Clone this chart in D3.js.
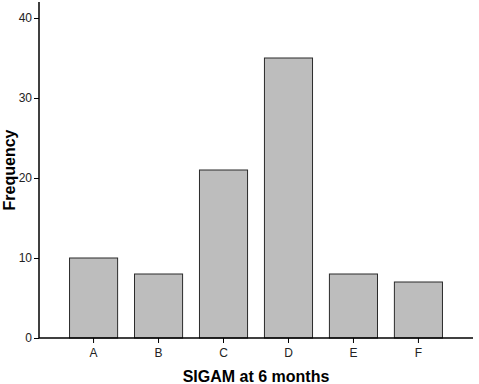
<!DOCTYPE html>
<html>
<head>
<meta charset="utf-8">
<script src="https://cdn.jsdelivr.net/npm/d3@7"></script>
<style>
  body { margin: 0; background: #fff; }
  svg { display: block; }
</style>
</head>
<body>
<script>
const categories = ["A", "B", "C", "D", "E", "F"];
const frequencies = [10, 8, 21, 35, 8, 7];
const yTicks = [0, 10, 20, 30, 40];

const width = 479, height = 384;
const plotLeft = 39, plotRight = 473, plotBottom = 338, plotTop = 18;

const svg = d3.select("body").append("svg")
  .attr("width", width)
  .attr("height", height)
  .style("font-family", "Arial, 'Liberation Sans', sans-serif");

const x = d3.scaleBand()
  .domain(categories)
  .range([plotLeft, plotRight])
  .paddingInner(0.26)
  .paddingOuter(0.47);

const y = d3.scaleLinear()
  .domain([0, 40])
  .range([plotBottom, plotTop]);

// bars
svg.selectAll("rect.bar")
  .data(categories)
  .enter()
  .append("rect")
    .attr("class", "bar")
    .attr("x", d => x(d))
    .attr("y", (d, i) => y(frequencies[i]))
    .attr("width", x.bandwidth())
    .attr("height", (d, i) => plotBottom - y(frequencies[i]))
    .attr("fill", "#bdbdbd")
    .attr("stroke", "#2b2b2b")
    .attr("stroke-width", 1);

// y axis
const yAxis = svg.append("g")
  .attr("transform", "translate(" + plotLeft + ",0)")
  .call(d3.axisLeft(y).tickValues(yTicks).tickSize(5).tickPadding(2).tickSizeOuter(0));
yAxis.select(".domain").remove();
yAxis.append("line")
  .attr("x1", 0).attr("x2", 0)
  .attr("y1", 2).attr("y2", plotBottom)
  .attr("stroke", "#000").attr("stroke-width", 1.5);
yAxis.selectAll("text").style("font-size", "12px").attr("fill", "#222");

// x axis
const xAxis = svg.append("g")
  .attr("transform", "translate(0," + plotBottom + ")")
  .call(d3.axisBottom(x).tickSize(5).tickPadding(5).tickSizeOuter(0));
xAxis.select(".domain").remove();
xAxis.append("line")
  .attr("x1", plotLeft).attr("x2", plotRight)
  .attr("y1", 0).attr("y2", 0)
  .attr("stroke", "#000").attr("stroke-width", 1.5);
xAxis.selectAll("text").style("font-size", "12px").attr("fill", "#222");

// axis titles
svg.append("text")
  .attr("x", 256)
  .attr("y", 382)
  .attr("text-anchor", "middle")
  .style("font-size", "16px")
  .style("font-weight", "bold")
  .text("SIGAM at 6 months");

svg.append("text")
  .attr("transform", "translate(15,170) rotate(-90)")
  .attr("text-anchor", "middle")
  .style("font-size", "16px")
  .style("font-weight", "bold")
  .text("Frequency");
</script>
</body>
</html>
